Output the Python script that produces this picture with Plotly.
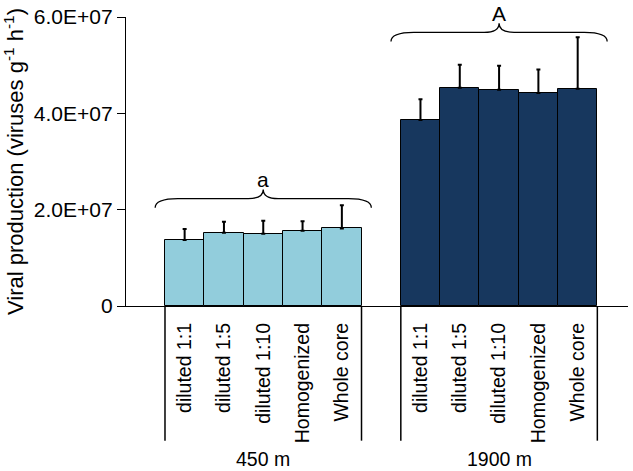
import plotly.graph_objects as go

groups = ["450 m", "1900 m"]
treatments = ["diluted 1:1", "diluted 1:5", "diluted 1:10", "Homogenized", "Whole core"]
vp_450 = [1.37e7, 1.52e7, 1.50e7, 1.56e7, 1.61e7]
err_450 = [0.23e7, 0.23e7, 0.27e7, 0.20e7, 0.48e7]
vp_1900 = [3.86e7, 4.53e7, 4.49e7, 4.42e7, 4.51e7]
err_1900 = [0.43e7, 0.48e7, 0.50e7, 0.49e7, 1.07e7]
letters = ["a", "A"]
brace_base = [2.04e7, 5.49e7]
ytick_vals = [0, 2e7, 4e7, 6e7]
ytick_text = ["0", "2.0E+07", "4.0E+07", "6.0E+07"]

colors = ["#92CDDC", "#17375E"]
values = [vp_450, vp_1900]
errors = [err_450, err_1900]
FONT = "Liberation Sans, Arial, sans-serif"
FS_X = 19.5
FS_Y = 21
FS_T = 22

n = len(treatments)
fig = go.Figure()
all_x, all_text = [], []
group_centers = []
for g, (name, vals, errs, col) in enumerate(zip(groups, values, errors, colors)):
    xs = [g * (n + 1) + i for i in range(n)]
    all_x += xs
    all_text += treatments
    group_centers.append(sum(xs) / n)
    fig.add_trace(go.Bar(
        x=xs, y=vals, width=1, name=name,
        marker=dict(color=col, line=dict(color="#000000", width=1)),
        error_y=dict(type="data", array=errs, arrayminus=[0] * n, symmetric=False,
                     color="#000000", thickness=2, width=2),
        showlegend=False, hoverinfo="skip",
    ))

shapes = []
annotations = []
for g, name in enumerate(groups):
    xs = [g * (n + 1) + i for i in range(n)]
    xc = group_centers[g]
    xl, xr = xc - 2.75, xc + 2.75
    y0 = brace_base[g]
    y1 = y0 + 0.19e7
    y2 = y1 + 0.19e7
    c, d = 0.58, 0.38
    path = (f"M {xl},{y0} Q {xl},{y1} {xl + c},{y1} L {xc - d},{y1} "
            f"Q {xc},{y1} {xc},{y2} Q {xc},{y1} {xc + d},{y1} "
            f"L {xr - c},{y1} Q {xr},{y1} {xr},{y0}")
    shapes.append(dict(type="path", path=path, xref="x", yref="y",
                       line=dict(color="#000000", width=1.3)))
    annotations.append(dict(x=xc, y=y2, xref="x", yref="y", text=letters[g],
                            showarrow=False, yanchor="bottom", yshift=-4,
                            font=dict(family=FONT, size=FS_Y, color="#000000")))
    for xv in (xs[0] - 0.5, xs[-1] + 0.5):
        shapes.append(dict(type="line", x0=xv, x1=xv, y0=0, y1=-0.466,
                           xref="x", yref="paper",
                           line=dict(color="#000000", width=1.5)))
    annotations.append(dict(x=xc, y=-0.528, xref="x", yref="paper", text=name,
                            showarrow=False, yanchor="middle",
                            font=dict(family=FONT, size=FS_X, color="#000000")))

fig.update_layout(
    width=633, height=471,
    margin=dict(l=126, r=5, t=14, b=165),
    paper_bgcolor="white", plot_bgcolor="white",
    font=dict(family=FONT, size=FS_X, color="#000000"),
    bargap=0,
    shapes=shapes, annotations=annotations,
    xaxis=dict(range=[-1.492, 11.28], tickvals=all_x, ticktext=all_text,
               tickangle=-90, ticks="", ticklabelstandoff=8,
               showline=True, linecolor="#000000", linewidth=1.3,
               showgrid=False, zeroline=False,
               tickfont=dict(family=FONT, size=FS_X, color="#000000")),
    yaxis=dict(range=[0, 6e7], tickvals=ytick_vals, ticktext=ytick_text,
               ticks="outside", ticklen=8, tickcolor="#000000", tickwidth=1.3,
               showline=True, linecolor="#000000", linewidth=1.3,
               showgrid=False, zeroline=False,
               title=dict(text="Viral production (viruses g<sup>-1</sup> h<sup>-1</sup>)",
                          standoff=6, font=dict(family=FONT, size=FS_T, color="#000000")),
               tickfont=dict(family=FONT, size=FS_Y, color="#000000")),
)

fig.write_html("out.html", config={"displayModeBar": False},
               post_script="document.body.style.margin='0';")
